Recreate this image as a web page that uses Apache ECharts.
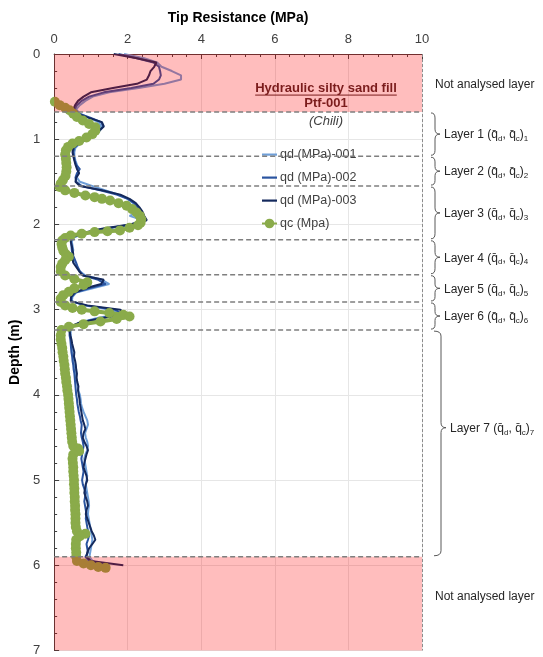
<!DOCTYPE html>
<html><head><meta charset="utf-8">
<script src="https://cdn.jsdelivr.net/npm/echarts@6/dist/echarts.min.js"></script>
<style>html,body{margin:0;padding:0;background:#fff}#c{width:543px;height:657px}</style>
</head><body><div id="c"></div><script>
const FONT = "'Liberation Sans', Arial, sans-serif";

// ---- data ----
const xTicks = [0, 2, 4, 6, 8, 10];
const yTicks = [0, 1, 2, 3, 4, 5, 6, 7];
const seriesNames = ['qd (MPa)-001', 'qd (MPa)-002', 'qd (MPa)-003', 'qc (Mpa)'];

const depth = [
 0.00,0.05,0.10,0.15,0.20,0.25,0.30,0.35,0.40,0.45,0.50,0.55,0.60,0.65,
 0.70,0.75,0.80,0.85,0.90,0.95,1.00,1.05,1.10,1.15,
 1.20,1.25,1.30,1.35,1.40,1.45,1.50,1.55,
 1.60,1.65,1.70,1.75,1.80,1.85,1.90,1.95,2.00,2.05,2.10,2.15,
 2.20,2.25,2.30,2.35,2.40,2.45,2.50,2.55,2.60,
 2.65,2.70,2.75,2.80,2.85,2.90,
 2.95,3.00,3.05,3.10,3.15,3.20,
 3.25,3.30,3.35,3.40,3.45,3.50,3.55,3.60,3.65,3.70,3.75,3.80,3.85,3.90,3.95,
 4.00,4.05,4.10,4.15,4.20,4.25,4.30,4.35,4.40,4.45,4.50,4.55,4.60,4.65,4.70,4.75,4.80,4.85,4.90,4.95,
 5.00,5.05,5.10,5.15,5.20,5.25,5.30,5.35,5.40,5.45,5.50,5.55,5.60,5.65,5.70,5.75,5.80,5.85,5.90,5.95,
 6.00];

const qd001 = [
 1.90,2.45,2.80,2.92,3.20,3.45,3.45,3.00,2.30,1.50,1.05,0.85,0.70,0.60,
 0.70,0.95,1.20,1.28,1.20,1.08,0.90,0.70,0.58,0.55,
 0.55,0.58,0.62,0.66,0.64,0.62,0.70,1.05,
 1.40,1.75,2.00,2.15,2.25,2.32,2.05,2.40,2.10,1.40,0.85,0.55,
 0.48,0.50,0.52,0.50,0.52,0.58,0.62,0.70,0.85,
 1.30,1.50,1.05,0.60,0.50,0.48,
 0.80,1.55,1.75,1.15,0.70,0.48,
 0.45,0.45,0.46,0.47,0.48,0.50,0.51,0.52,0.54,0.56,0.58,0.60,0.62,0.64,0.66,
 0.70,0.72,0.73,0.76,0.80,0.85,0.90,0.92,0.88,0.84,0.86,0.90,0.92,0.90,0.85,0.82,0.84,0.86,0.88,0.90,
 0.88,0.86,0.88,0.90,0.92,0.94,0.95,0.93,0.92,0.94,0.96,0.98,1.00,1.02,1.04,1.02,1.00,0.98,0.96,1.05,
 1.30];

const qd002 = [
 1.75,2.25,2.70,2.85,2.88,2.90,2.85,2.70,2.10,1.35,0.95,0.75,0.62,0.56,
 0.68,1.00,1.28,1.34,1.24,1.10,0.88,0.68,0.55,0.52,
 0.54,0.56,0.60,0.70,0.62,0.58,0.60,0.75,
 1.25,1.70,2.00,2.18,2.28,2.36,2.42,2.45,2.15,1.35,0.80,0.50,
 0.46,0.47,0.48,0.50,0.55,0.60,0.64,0.70,0.80,
 1.20,1.40,0.95,0.58,0.48,0.46,
 0.85,1.65,1.85,1.25,0.72,0.46,
 0.42,0.42,0.44,0.45,0.46,0.47,0.49,0.50,0.52,0.53,0.55,0.56,0.57,0.58,0.59,
 0.60,0.62,0.63,0.65,0.67,0.70,0.72,0.75,0.74,0.73,0.75,0.78,0.80,0.78,0.76,0.74,0.76,0.78,0.80,0.78,
 0.76,0.78,0.82,0.86,0.84,0.82,0.84,0.86,0.88,0.86,0.88,0.90,0.92,0.95,0.92,0.88,0.90,0.92,0.85,0.95,
 1.50];

const qd003 = [
 1.62,2.25,2.78,2.72,2.62,2.58,2.52,2.25,1.60,1.00,0.80,0.65,0.57,0.52,
 0.62,0.95,1.30,1.35,1.22,1.08,0.86,0.66,0.52,0.50,
 0.52,0.55,0.58,0.62,0.68,0.60,0.58,0.70,
 1.30,1.80,2.05,2.22,2.32,2.40,2.45,2.52,2.05,1.30,0.78,0.48,
 0.45,0.48,0.50,0.52,0.50,0.52,0.60,0.68,0.78,
 1.35,1.28,0.85,0.55,0.46,0.45,
 0.90,1.80,1.93,1.30,0.70,0.44,
 0.42,0.44,0.47,0.49,0.52,0.55,0.54,0.57,0.59,0.60,0.62,0.61,0.63,0.66,0.65,
 0.67,0.69,0.70,0.72,0.74,0.76,0.78,0.82,0.85,0.80,0.78,0.82,0.88,0.92,0.88,0.85,0.82,0.80,0.84,0.88,
 0.90,0.86,0.84,0.82,0.86,0.90,0.92,0.88,0.86,0.90,0.94,0.98,1.02,1.08,1.12,1.04,0.95,0.90,0.88,1.00,
 1.88];

const qcDepth = [
 0.56,0.60,0.63,0.66,0.70,0.74,0.78,0.82,0.86,0.90,0.94,0.98,1.02,1.05,1.09,1.13,1.18,1.23,1.28,1.33,1.38,1.43,1.48,1.52,1.56,
 1.60,1.63,1.66,1.68,1.70,1.72,1.75,1.78,1.82,1.86,1.90,1.94,1.98,2.01,2.04,2.07,2.08,2.09,2.11,2.13,2.16,2.19,
 2.23,2.27,2.31,2.35,2.38,2.42,2.46,2.50,2.55,2.60,2.64,2.68,2.71,2.75,2.79,2.83,2.87,2.91,
 2.95,2.98,3.00,3.02,3.04,3.06,3.08,3.11,3.14,3.17,3.20,3.24,
 3.30,3.35,3.40,3.45,3.50,3.55,3.60,3.65,3.70,3.75,3.80,3.85,3.90,3.95,
 4.00,4.05,4.10,4.15,4.20,4.25,4.30,4.35,4.40,4.45,4.50,4.55,4.60,4.63,4.66,4.70,4.75,4.80,4.85,4.90,4.95,
 5.00,5.05,5.10,5.15,5.20,5.25,5.30,5.35,5.40,5.45,5.50,5.55,5.60,5.63,5.66,5.70,5.75,5.80,5.85,5.90,5.95,
 5.98,6.00,6.02,6.03];

const qcValue = [
 0.02,0.15,0.30,0.42,0.52,0.62,0.78,0.95,1.12,1.12,1.04,0.88,0.68,0.50,0.38,0.32,0.30,0.32,0.33,0.34,0.33,0.31,0.24,0.18,0.15,
 0.30,0.55,0.85,1.10,1.30,1.52,1.75,1.97,2.12,2.24,2.33,2.37,2.35,2.28,2.05,1.79,1.45,1.10,0.75,0.45,0.30,0.22,
 0.20,0.22,0.25,0.32,0.40,0.30,0.22,0.18,0.18,0.30,0.55,0.90,0.80,0.55,0.40,0.25,0.18,0.18,
 0.30,0.50,0.75,1.10,1.50,1.88,2.05,1.70,1.26,0.80,0.40,0.20,
 0.18,0.18,0.20,0.22,0.23,0.25,0.26,0.28,0.29,0.30,0.32,0.33,0.35,0.36,
 0.38,0.39,0.40,0.41,0.42,0.43,0.44,0.45,0.46,0.47,0.48,0.49,0.52,0.65,0.68,0.52,0.50,0.51,0.52,0.52,0.53,
 0.54,0.54,0.55,0.55,0.56,0.56,0.57,0.57,0.58,0.58,0.58,0.59,0.62,0.85,0.70,0.60,0.59,0.59,0.60,0.60,0.62,
 0.80,1.00,1.20,1.40];

// layer boundaries (depth, m)
const boundaries = [0.68, 1.20, 1.55, 2.18, 2.59, 2.91, 3.24, 5.90];
const pinkBands = [[0, 0.68], [5.90, 7]];
const layerNames = ['1', '2', '3', '4', '5', '6', '7'];
const notAnalysedLabel = 'Not analysed layer';
const fillTitle = 'Hydraulic silty sand fill';
const fillCode = 'Ptf-001';
const fillSite = '(Chili)';

const colors = ['#6f9fd8', '#2a54a0', '#14295c', '#8aab4a'];
const X_MIN = 0, X_MAX = 10;

const chart = echarts.init(document.getElementById('c'), null, {renderer: 'canvas'});

const qdSets = [qd001, qd002, qd003];
const series = qdSets.map((arr, k) => ({
  type: 'line', name: seriesNames[k],
  data: depth.map((d, i) => [arr[i], d]),
  symbol: 'none', lineStyle: {width: 2, color: colors[k]}, itemStyle: {color: colors[k]},
  z: 2 + k, animation: false
}));
series.push({
  type: 'line', name: seriesNames[3],
  data: qcDepth.map((d, i) => [qcValue[i], d]),
  symbol: 'circle', symbolSize: 10, lineStyle: {width: 4, color: colors[3]},
  itemStyle: {color: colors[3]}, z: 6, animation: false
});
// pink (not analysed) bands overlaying the data
series.push({
  type: 'custom', name: 'bands', silent: true, z: 10, animation: false,
  data: pinkBands,
  renderItem(params, api) {
    const p0 = api.coord([X_MIN, api.value(0)]);
    const p1 = api.coord([X_MAX, api.value(1)]);
    return {type: 'rect', shape: {x: p0[0], y: p0[1], width: p1[0] - p0[0], height: p1[1] - p0[1]},
            style: {fill: 'rgba(255,0,0,0.26)'}};
  }
});
// dashed layer boundaries
series.push({
  type: 'custom', name: 'bounds', silent: true, z: 11, animation: false,
  data: boundaries.map(d => [X_MIN, d]),
  renderItem(params, api) {
    const p0 = api.coord([X_MIN, api.value(1)]);
    const p1 = api.coord([X_MAX, api.value(1)]);
    return {type: 'line', shape: {x1: p0[0], y1: p0[1], x2: p1[0], y2: p1[1]},
            style: {stroke: '#7f7f7f', lineWidth: 1.5, lineDash: [5, 3]}};
  }
});
// braces + layer labels (outside the plot, right side)
const layerSpans = boundaries.slice(0, 7).map((d, i) => [d, boundaries[i + 1], i]);
series.push({
  type: 'custom', name: 'layers', silent: true, clip: false, z: 12, animation: false,
  data: layerSpans,
  renderItem(params, api) {
    const i = api.value(2);
    const pt = api.coord([X_MAX, api.value(0)]);
    const pb = api.coord([X_MAX, api.value(1)]);
    const big = i === 6;
    const ex = pt[0] + (big ? 12 : 9), sx = ex + (big ? 7 : 4), tx = sx + 5;
    const top = pt[1] + 1, bot = pb[1] - 1;
    const tip = big ? top + (bot - top) * 0.43 : (top + bot) / 2;
    const r = Math.min(5, (tip - top) / 3, (bot - tip) / 3);
    const d = `M${ex},${top} Q${sx},${top} ${sx},${top + r} L${sx},${tip - r} Q${sx},${tip} ${tx},${tip} ` +
              `Q${sx},${tip} ${sx},${tip + r} L${sx},${bot - r} Q${sx},${bot} ${ex},${bot}`;
    const n = layerNames[i];
    return {type: 'group', children: [
      {type: 'path', shape: {pathData: d}, style: {stroke: '#595959', fill: null, lineWidth: 1}},
      {type: 'text', style: {
        x: tx + 4, y: tip + 1, text: `{a|Layer ${n} (q\u0304}{s|d}{a|, q\u0304}{s|c}{a|)}{s|${n}}`,
        verticalAlign: 'middle', align: 'left',
        rich: {
          a: {fontSize: 12, fontFamily: FONT, fill: '#262626', lineHeight: 16},
          s: {fontSize: 8, fontFamily: FONT, fill: '#262626', lineHeight: 16, verticalAlign: 'bottom'}
        }
      }}
    ]};
  }
});

const lineIcon = 'path://M0,0 M15,12 M0,5 L15,5 L15,7.2 L0,7.2 Z';
chart.setOption({
  animation: false,
  backgroundColor: '#fff',
  textStyle: {fontFamily: FONT},
  grid: {left: 50, right: 121, top: 54, bottom: 3, containLabel: false},
  legend: {
    data: seriesNames.map((n, k) => k < 3 ? {name: n, icon: lineIcon} : {name: n}),
    orient: 'vertical', left: 256, top: 143,
    itemWidth: 15, itemHeight: 12, itemGap: 10,
    textStyle: {fontSize: 12.5, color: '#404040', fontFamily: FONT, padding: [0, 0, 0, -2]}
  },
  xAxis: {
    type: 'value', position: 'top', min: xTicks[0], max: xTicks[xTicks.length - 1], interval: 2,
    name: 'Tip Resistance (MPa)', nameLocation: 'middle', nameGap: 29,
    nameTextStyle: {fontWeight: 'bold', fontSize: 14, color: '#000', fontFamily: FONT},
    axisLine: {show: true, lineStyle: {color: '#404040', width: 1}},
    axisTick: {show: true, inside: true, length: 5, lineStyle: {color: '#404040'}},
    minorTick: {show: true, splitNumber: 5, length: 3, lineStyle: {color: '#404040'}},
    axisLabel: {fontSize: 13, color: '#404040', margin: 8, fontFamily: FONT},
    splitLine: {show: true, lineStyle: {color: '#e6e6e6'}}
  },
  yAxis: {
    type: 'value', inverse: true, min: yTicks[0], max: yTicks[yTicks.length - 1], interval: 1,
    name: 'Depth (m)', nameLocation: 'middle', nameGap: 28, nameRotate: 90,
    nameTextStyle: {fontWeight: 'bold', fontSize: 14, color: '#000', fontFamily: FONT},
    axisLine: {show: true, lineStyle: {color: '#404040', width: 1}},
    axisTick: {show: true, inside: true, length: 5, lineStyle: {color: '#404040'}},
    minorTick: {show: true, splitNumber: 5, length: 3, lineStyle: {color: '#404040'}},
    axisLabel: {fontSize: 13, color: '#404040', margin: 14, fontFamily: FONT},
    splitLine: {show: true, lineStyle: {color: '#e6e6e6'}}
  },
  series
});

// text annotations anchored through the axes
const P = v => chart.convertToPixel({gridIndex: 0}, v);
const ctx = document.createElement('canvas').getContext('2d');
ctx.font = `bold 13px ${FONT}`;
const titleW = ctx.measureText(fillTitle).width;
const cT = P([7.39, 0.40]), cC = P([7.39, 0.58]), cS = P([7.39, 0.79]);
const rTop = P([X_MAX, 0.36]), rBot = P([X_MAX, 6.37]);
const topRight = P([X_MAX, 0]), botRight = P([X_MAX, 7]);
const txt = (x, y, text, font, fill, align) => ({
  type: 'text', x, y, z: 100, silent: true,
  style: {text, font, fill, align: align || 'center', verticalAlign: 'middle',
          textAlign: align || 'center', textVerticalAlign: 'middle'}
});
chart.setOption({
  graphic: [
    txt(cT[0], cT[1], fillTitle, `bold 13px ${FONT}`, '#7b1c1c'),
    {type: 'line', z: 100, silent: true, shape: {x1: cT[0] - titleW / 2, y1: cT[1] + 7, x2: cT[0] + titleW / 2, y2: cT[1] + 7},
     style: {stroke: '#7b1c1c', lineWidth: 1}},
    txt(cC[0], cC[1], fillCode, `bold 13px ${FONT}`, '#7b1c1c'),
    txt(cS[0], cS[1], fillSite, `italic 13px ${FONT}`, '#404040'),
    txt(rTop[0] + 13, rTop[1], notAnalysedLabel, `12px ${FONT}`, '#262626', 'left'),
    txt(rBot[0] + 13, rBot[1], notAnalysedLabel, `12px ${FONT}`, '#262626', 'left'),
    {type: 'line', z: 100, silent: true, shape: {x1: topRight[0] + 0.5, y1: topRight[1], x2: botRight[0] + 0.5, y2: botRight[1]},
     style: {stroke: '#8c8c8c', lineWidth: 1, lineDash: [3, 2]}}
  ]
});
</script></body></html>
